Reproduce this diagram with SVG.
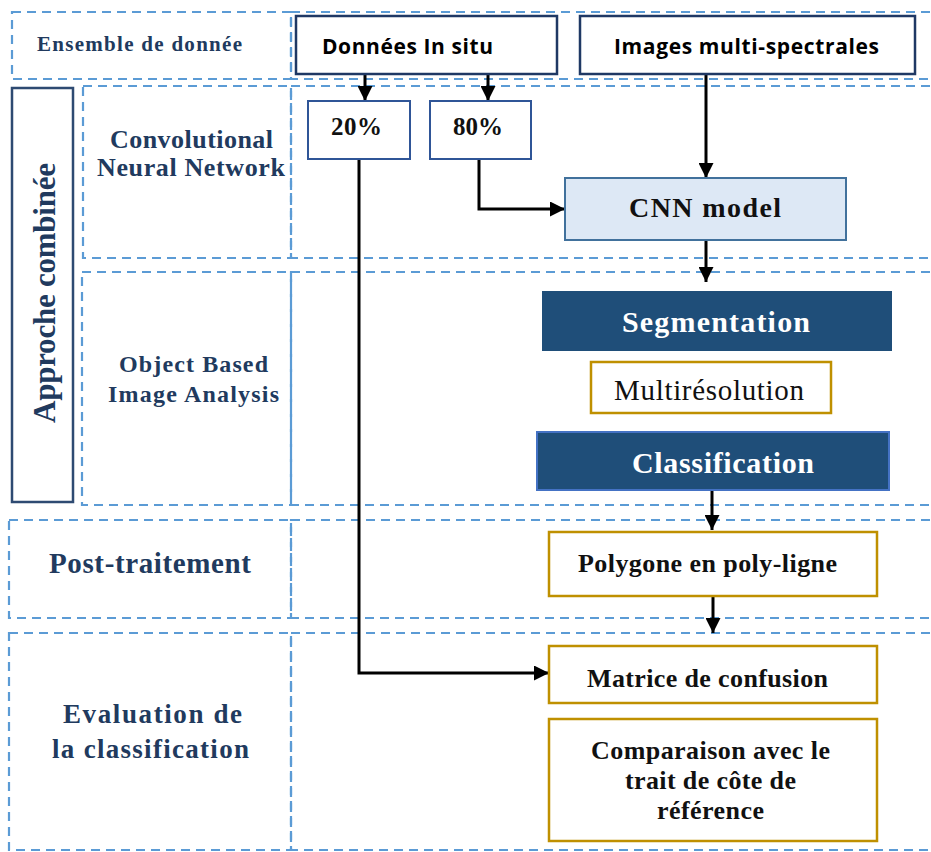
<svg xmlns="http://www.w3.org/2000/svg" width="931" height="852" viewBox="0 0 931 852">
  <defs>
    <marker id="arrow" viewBox="0 0 15 15" refX="15" refY="7.5" markerWidth="15" markerHeight="15" markerUnits="userSpaceOnUse" orient="auto">
      <path d="M0,0 L15,7.5 L0,15 z" fill="#000"/>
    </marker>
    <style>
      .dash { fill: none; stroke: #5b9bd5; stroke-width: 2.2; stroke-dasharray: 9 6; }
      .lbl { font-family: "Liberation Serif", "Times New Roman", serif; font-weight: bold; fill: #213a5e; text-anchor: middle; }
      .sans { font-family: "Open Sans", "Liberation Sans", sans-serif; font-weight: 700; fill: #000; text-anchor: middle; font-size: 21px; }
      .ser { font-family: "Liberation Serif", "Times New Roman", serif; font-weight: bold; fill: #111; text-anchor: middle; }
      .white { fill: #fff; }
      .gold { fill: #fff; stroke: #bf9000; stroke-width: 2.5; }
      .conn { fill: none; stroke: #000; stroke-width: 3; }
    </style>
  </defs>
  <rect width="931" height="852" fill="#fff"/>

  <!-- swimlane dashed frames -->
  <g id="lanes">
    <rect class="dash" x="12" y="12" width="279" height="67"/>
    <rect class="dash" x="291" y="12" width="660" height="67"/>
    <rect class="dash" x="83" y="86" width="208" height="172"/>
    <rect class="dash" x="291" y="86" width="660" height="172"/>
    <rect class="dash" x="82" y="272" width="209" height="233"/>
    <rect class="dash" x="291" y="272" width="660" height="233"/>
    <rect class="dash" x="9" y="520" width="282" height="98"/>
    <rect class="dash" x="291" y="520" width="660" height="98"/>
    <rect class="dash" x="9" y="633" width="282" height="217"/>
    <rect class="dash" x="291" y="633" width="660" height="217"/>
  </g>

  <!-- lane labels -->
  <g id="lane-labels">
    <text class="lbl" x="139.5" y="51" font-size="21" textLength="205" lengthAdjust="spacing">Ensemble de donnée</text>
    <text class="lbl" x="191.5" y="148" font-size="26" textLength="163" lengthAdjust="spacing">Convolutional</text>
    <text class="lbl" x="191" y="176" font-size="26" textLength="188" lengthAdjust="spacing">Neural Network</text>
    <text class="lbl" x="193.5" y="372" font-size="24" textLength="149" lengthAdjust="spacing">Object Based</text>
    <text class="lbl" x="193.5" y="402" font-size="24" textLength="171" lengthAdjust="spacing">Image Analysis</text>
    <text class="lbl" x="150" y="573" font-size="29" textLength="202" lengthAdjust="spacing">Post-traitement</text>
    <text class="lbl" x="152.5" y="723" font-size="27" textLength="179" lengthAdjust="spacing">Evaluation de</text>
    <text class="lbl" x="150.5" y="758" font-size="27" textLength="197" lengthAdjust="spacing">la classification</text>
  </g>

  <g id="approche">
    <rect x="12" y="88" width="61" height="414" fill="#fff" stroke="#2e4a72" stroke-width="2.5"/>
    <text class="lbl" transform="translate(55,293) rotate(-90)" font-size="31" textLength="260" lengthAdjust="spacing">Approche combinée</text>
  </g>

  <!-- connectors -->
  <g id="connectors">
    <line class="conn" x1="365" y1="74" x2="365" y2="101" marker-end="url(#arrow)"/>
    <line class="conn" x1="488" y1="74" x2="488" y2="101" marker-end="url(#arrow)"/>
    <line class="conn" x1="706" y1="74" x2="706" y2="178" marker-end="url(#arrow)"/>
    <polyline class="conn" points="479,159 479,209 565,209" marker-end="url(#arrow)"/>
    <line class="conn" x1="706" y1="240" x2="706" y2="282" marker-end="url(#arrow)"/>
    <line class="conn" x1="712" y1="490" x2="712" y2="530" marker-end="url(#arrow)"/>
    <line class="conn" x1="713" y1="596" x2="713" y2="633" marker-end="url(#arrow)"/>
    <polyline class="conn" points="359,159 359,673 549,673" marker-end="url(#arrow)"/>
  </g>

  <!-- nodes -->
  <g id="donnees-in-situ">
    <rect x="296" y="16" width="261" height="58" fill="#fff" stroke="#1f3864" stroke-width="2.5"/>
    <text class="sans" x="407.5" y="54" textLength="171" lengthAdjust="spacing">Données In situ</text>
  </g>
  <g id="images-multispectrales">
    <rect x="580" y="16" width="335" height="58" fill="#fff" stroke="#1f3864" stroke-width="2.5"/>
    <text class="sans" x="746.5" y="54" textLength="265" lengthAdjust="spacing">Images multi-spectrales</text>
  </g>
  <g id="p20">
    <rect x="308" y="101" width="102" height="58" fill="#fff" stroke="#2f5597" stroke-width="2"/>
    <text class="ser" x="356.5" y="135" font-size="25" textLength="51" lengthAdjust="spacing">20%</text>
  </g>
  <g id="p80">
    <rect x="430" y="101" width="101" height="58" fill="#fff" stroke="#2f5597" stroke-width="2"/>
    <text class="ser" x="478" y="135" font-size="25" textLength="50" lengthAdjust="spacing">80%</text>
  </g>
  <g id="cnn-model">
    <rect x="565" y="178" width="281" height="62" fill="#dde8f5" stroke="#41719c" stroke-width="2"/>
    <text class="ser" x="705" y="217" font-size="28" textLength="152" lengthAdjust="spacing">CNN model</text>
  </g>
  <g id="segmentation">
    <rect x="542" y="291" width="350" height="60" fill="#1f4e79"/>
    <text class="ser white" x="716" y="332" font-size="30" textLength="188" lengthAdjust="spacing">Segmentation</text>
  </g>
  <g id="multiresolution">
    <rect class="gold" x="591" y="362" width="240" height="51"/>
    <text x="709" y="400" font-family="Liberation Serif, Times New Roman, serif" font-size="29" fill="#111" text-anchor="middle" textLength="190" lengthAdjust="spacing">Multirésolution</text>
  </g>
  <g id="classification">
    <rect x="537" y="432" width="352" height="58" fill="#1f4e79" stroke="#4472c4" stroke-width="2"/>
    <text class="ser white" x="723" y="473" font-size="30" textLength="182" lengthAdjust="spacing">Classification</text>
  </g>
  <g id="polygone">
    <rect class="gold" x="549" y="532" width="328" height="64"/>
    <text class="ser" x="707.5" y="572" font-size="26" textLength="259" lengthAdjust="spacing">Polygone en poly-ligne</text>
  </g>
  <g id="matrice">
    <rect class="gold" x="549" y="646" width="328" height="57"/>
    <text class="ser" x="707.5" y="687" font-size="26" textLength="241" lengthAdjust="spacing">Matrice de confusion</text>
  </g>
  <g id="comparaison">
    <rect class="gold" x="549" y="719" width="328" height="122"/>
    <text class="ser" x="710.5" y="759" font-size="26" textLength="239" lengthAdjust="spacing">Comparaison avec le</text>
    <text class="ser" x="710.5" y="789" font-size="26" textLength="171" lengthAdjust="spacing">trait de côte de</text>
    <text class="ser" x="710.5" y="819" font-size="26" textLength="107" lengthAdjust="spacing">référence</text>
  </g>
</svg>
